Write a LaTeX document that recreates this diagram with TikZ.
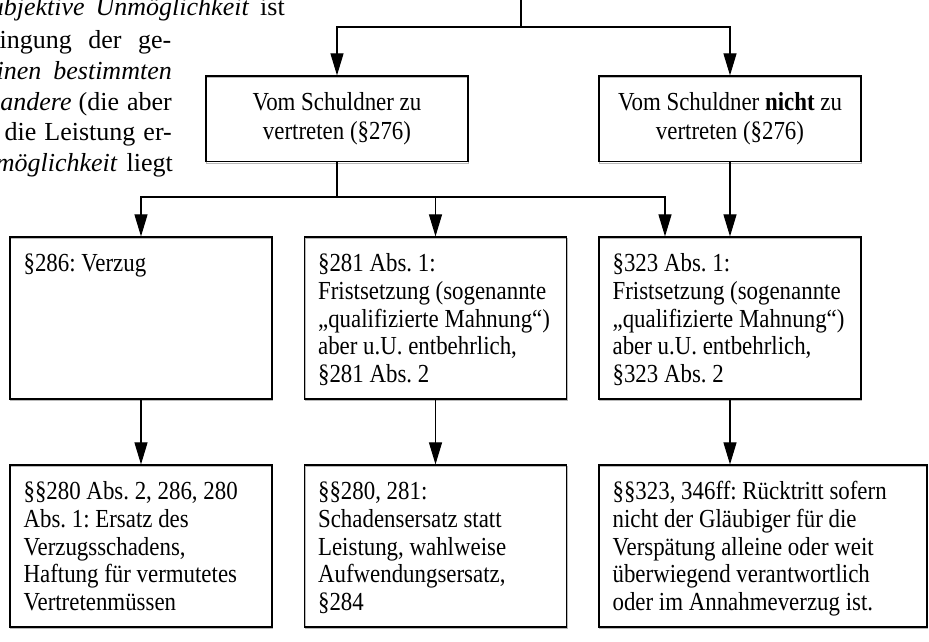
\documentclass[tikz,border=0pt]{standalone}
\usepackage{fontspec}
\setmainfont{Liberation Serif}
\newfontfamily\boxfont[FakeStretch=0.88]{Liberation Serif}
\usetikzlibrary{arrows.meta}
\frenchspacing
\begin{document}
\begin{tikzpicture}[x=1pt,y=-1pt,
  box/.style={draw, line width=1.2pt, inner sep=0pt, minimum width=262pt,
    preaction={draw=gray!55, line width=1.2pt, transform canvas={shift={(0.6pt,-1.4pt)}}}},
  topbox/.style={box, minimum height=85.7pt},
  midbox/.style={box, minimum height=162pt},
  btxt/.style={font=\boxfont\fontsize{26}{27.8}\selectfont\frenchspacing, inner sep=0pt, align=left, anchor=base west},
  ctxt/.style={font=\boxfont\fontsize{26}{29}\selectfont\frenchspacing, inner sep=0pt, align=center, anchor=base},
  ptxt/.style={font=\fontsize{26}{31}\selectfont, inner sep=0pt, anchor=base east},
  conn/.style={line width=1.1pt},
  arr/.style={conn, -{Triangle[length=22pt,width=13pt]}},
]
\useasboundingbox (0,0) rectangle (929,641);

% paragraph fragment (cut at left edge)
\node[ptxt] (p1) at (285,15) {\textit{ubjektive}\hspace{11pt}\textit{Unmöglichkeit}\hspace{11pt}ist};
\node[ptxt] (p2) at (171.5,48) {ingung\hspace{16.5pt}der\hspace{16.5pt}ge-};
\node[ptxt] (p3) at (172,79) {\textit{inen}\hspace{12pt}\textit{bestimmten}};
\node[ptxt] (p4) at (172,110) {\textit{andere}\hspace{7pt}(die\hspace{8pt}aber};
\node[ptxt] (p5) at (172,140.5) {die\hspace{8pt}Leistung\hspace{8pt}er-};
\node[ptxt] (p6) at (173,171) {\textit{möglichkeit}\hspace{9pt}liegt};

% boxes
\node[topbox] (v1) at (337,118.85) {};
\node[topbox] (v2) at (730,118.85) {};
\node[midbox] (m1) at (141,318) {};
\node[midbox] (m2) at (435.5,318) {};
\node[midbox] (m3) at (730,318) {};
\node[midbox] (r1) at (141,546) {};
\node[midbox] (r2) at (435.5,546) {};
\node[midbox, minimum width=328pt] (r3) at (763,546) {};

% texts (anchor = baseline of the last line)
\node[ctxt] (tv1) at ([yshift=-63.9pt]v1.north) {Vom Schuldner zu\\vertreten (§276)};
\node[ctxt] (tv2) at ([yshift=-63.9pt]v2.north) {Vom Schuldner \textbf{nicht} zu\\vertreten (§276)};
\node[btxt] (tm1) at ([xshift=14pt,yshift=-35pt]m1.north west) {§286: Verzug};
\node[btxt] (tm2) at ([xshift=14pt,yshift=-146.2pt]m2.north west) {§281 Abs. 1:\\Fristsetzung (sogenannte\\„qualifizierte Mahnung“)\\aber u.U. entbehrlich,\\§281 Abs. 2};
\node[btxt] (tm3) at ([xshift=14pt,yshift=-146.2pt]m3.north west) {§323 Abs. 1:\\Fristsetzung (sogenannte\\„qualifizierte Mahnung“)\\aber u.U. entbehrlich,\\§323 Abs. 2};
\node[btxt] (tr1) at ([xshift=14pt,yshift=-146.2pt]r1.north west) {§§280 Abs. 2, 286, 280\\Abs. 1: Ersatz des\\Verzugsschadens,\\Haftung für vermutetes\\Vertretenmüssen};
\node[btxt] (tr2) at ([xshift=14pt,yshift=-146.2pt]r2.north west) {§§280, 281:\\Schadensersatz statt\\Leistung, wahlweise\\Aufwendungsersatz,\\§284};
\node[btxt] (tr3) at ([xshift=14pt,yshift=-146.2pt]r3.north west) {§§323, 346ff: Rücktritt sofern\\nicht der Gläubiger für die\\Verspätung alleine oder weit\\überwiegend verantwortlich\\oder im Annahmeverzug ist.};

% connectors
\coordinate (top) at (521,-2);
\coordinate (fork) at (521,27);
\draw[conn] (top) -- (fork);
\draw[arr] (fork) -| (v1.north);
\draw[arr] (fork) -| (v2.north);
\coordinate (split) at (337,197);
\draw[conn] (v1.south) -- (split);
\draw[arr] (split) -| (m1.north);
\draw[arr] (split) -| (m2.north);
\draw[arr] (split) -| ([xshift=-65pt]m3.north);
\draw[arr] (v2.south) -- (m3.north);
\draw[arr] (m1.south) -- (r1.north);
\draw[arr] (m2.south) -- (r2.north);
\draw[arr] (m3.south) -- ([xshift=-33pt]r3.north);
\end{tikzpicture}
\end{document}
